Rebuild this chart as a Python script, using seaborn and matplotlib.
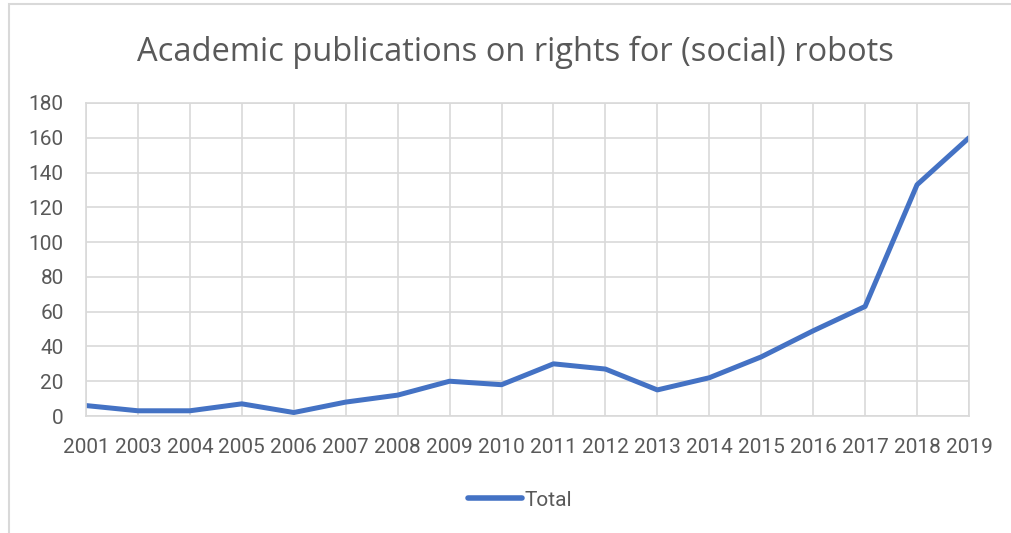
import matplotlib
matplotlib.use("Agg")
import matplotlib.pyplot as plt
import seaborn as sns
import pandas as pd
from matplotlib.patches import Rectangle
from matplotlib import font_manager

years = ["2001", "2003", "2004", "2005", "2006", "2007", "2008", "2009", "2010",
         "2011", "2012", "2013", "2014", "2015", "2016", "2017", "2018", "2019"]
totals = [6, 3, 3, 7, 2, 8, 12, 20, 18, 30, 27, 15, 22, 34, 49, 63, 133, 160]
y_ticks = [0, 20, 40, 60, 80, 100, 120, 140, 160, 180]

sns.set_theme(style="white")
plt.rcParams['font.family'] = ['Open Sans', 'DejaVu Sans']

names = {f.name for f in font_manager.fontManager.ttflist}
narrow = 'Liberation Sans Narrow' if 'Liberation Sans Narrow' in names else 'Roboto'

df = pd.DataFrame({"Year": years, "Total": totals})

fig = plt.figure(figsize=(10.11, 5.33), dpi=100)
ax = fig.add_axes([86/1011, 1-416/533, (969-86)/1011, (416-103)/533])

sns.lineplot(data=df, x="Year", y="Total", ax=ax, color="#4472C4",
             linewidth=3.6, label="Total", sort=False)

ax.set_xlim(0, len(years)-1)
ax.set_ylim(0, 180)
ax.set_yticks(y_ticks)
ax.set_xticks(range(len(years)))
ax.set_xticklabels(years)
ax.grid(True, color="#d9d9d9", linewidth=1.2)
ax.set_axisbelow(True)
for s in ax.spines.values():
    s.set_visible(True)
    s.set_color("#d9d9d9")
    s.set_linewidth(1.2)
ax.tick_params(axis="x", length=0, pad=16, labelcolor="#595959")
ax.tick_params(axis="y", length=0, pad=16, labelcolor="#595959")
for t in ax.get_xticklabels():
    t.set_fontfamily([narrow, 'DejaVu Sans'])
    t.set_fontsize(15)
for t in ax.get_yticklabels():
    t.set_fontfamily([narrow, 'DejaVu Sans'])
    t.set_fontsize(15)
ax.set_xlabel("")
ax.set_ylabel("")

ax.set_title("Academic publications on rights for (social) robots",
             fontsize=23.5, color="#595959", pad=30, x=(515-86)/883)

leg = ax.legend(loc="center", bbox_to_anchor=((520-86)/883, (533-500-(533-416))/(416-103)),
                frameon=False, handlelength=2.6, handletextpad=0.1,
                labelcolor="#595959", prop={'family': [narrow, 'DejaVu Sans'], 'size': 15})
for h in leg.get_lines():
    h.set_linewidth(4)
    h.set_solid_capstyle("round")

fig.patches.append(Rectangle((9/1011, -0.1), 1.2, 1-4/533+0.1, transform=fig.transFigure,
                             fill=False, edgecolor="#d9d9d9", linewidth=1.5))

fig.savefig("out.png", dpi=100, facecolor="white")
